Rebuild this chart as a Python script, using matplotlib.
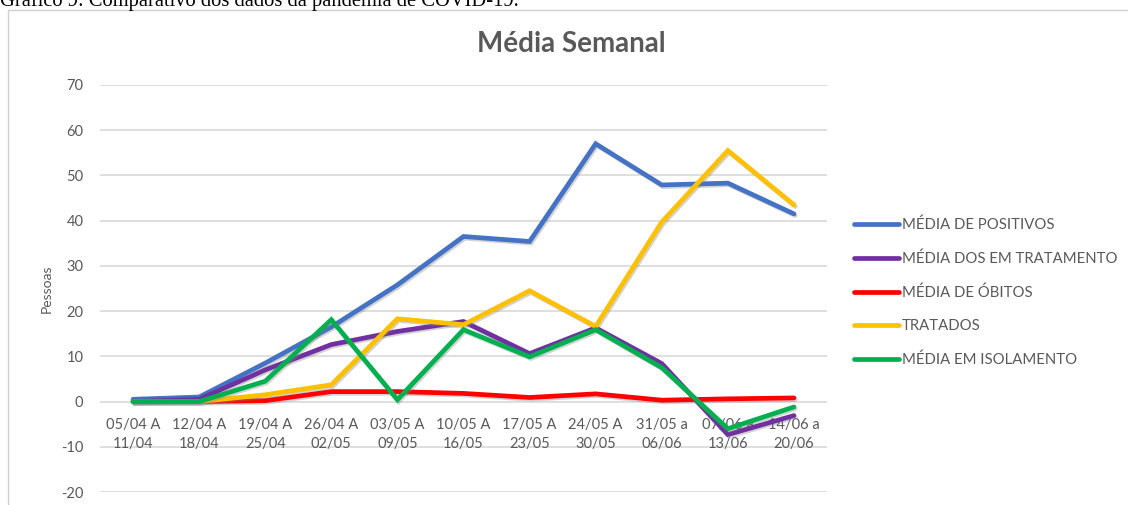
import matplotlib.pyplot as plt
import matplotlib.patheffects as pe
from matplotlib.patches import Rectangle
from matplotlib.transforms import offset_copy

# Weekly averages
semanas = ["05/04 A\n11/04", "12/04 A\n18/04", "19/04 A\n25/04", "26/04 A\n02/05",
           "03/05 A\n09/05", "10/05 A\n16/05", "17/05 A\n23/05", "24/05 A\n30/05",
           "31/05 a\n06/06", "07/06 a\n13/06", "14/06 a\n20/06"]
positivos = [0.5, 1.0, 8.5, 16.5, 25.8, 36.5, 35.4, 57.0, 47.9, 48.3, 41.5]
em_tratamento = [0.0, 0.5, 7.0, 12.6, 15.5, 17.7, 10.6, 16.3, 8.4, -7.3, -3.1]
obitos = [0.0, 0.0, 0.2, 2.2, 2.2, 1.8, 0.9, 1.7, 0.3, 0.6, 0.8]
tratados = [0.0, 0.0, 1.5, 3.7, 18.3, 17.0, 24.5, 16.6, 39.7, 55.5, 43.5]
isolamento = [0.0, 0.0, 4.5, 18.1, 0.4, 15.9, 9.9, 15.9, 7.5, -6.0, -1.2]
yticks = [-20, -10, 0, 10, 20, 30, 40, 50, 60, 70]

series = [
    ("MÉDIA DE POSITIVOS", positivos, "#4472C4"),
    ("MÉDIA DOS EM TRATAMENTO", em_tratamento, "#7030A0"),
    ("MÉDIA DE ÓBITOS", obitos, "#FF0000"),
    ("TRATADOS", tratados, "#FFC000"),
    ("MÉDIA EM ISOLAMENTO", isolamento, "#00B050"),
]

text_gray = "#595959"
plt.rcParams['font.family'] = ['Lato', 'DejaVu Sans']
plt.rcParams['axes.unicode_minus'] = False

fig = plt.figure(figsize=(11.28, 5.05), dpi=100)
fig.patch.set_facecolor('white')

# caption above the chart (cut off at top, like in the source document)
fig.text(0.0, 1 - 6 / 505, "Gráfico 9: Comparativo dos dados da pandemia de COVID-19.",
         family='Liberation Serif', fontsize=14.8, color='black', va='baseline', ha='left')

# chart frame
fig.patches.append(Rectangle((8 / 1128, -0.05), 1.2, 1 - 10 / 505 + 0.05,
                             transform=fig.transFigure, fill=False,
                             edgecolor='#d0d0d0', linewidth=1.0))

ax = fig.add_axes([100 / 1128, 1 - 492 / 505, 727 / 1128, 407 / 505])
x = list(range(len(semanas)))

shadow = [pe.SimpleLineShadow(offset=(1, -1.2), shadow_color='gray', alpha=0.35), pe.Normal()]
for name, vals, col in series:
    ax.plot(x, vals, color=col, linewidth=3.4, label=name, zorder=3,
            solid_capstyle='round', solid_joinstyle='miter', path_effects=shadow)

ax.set_xlim(-0.5, len(semanas) - 0.5)
ax.set_ylim(-20, 70)
ax.set_yticks(yticks)
ax.tick_params(axis='y', length=0, labelsize=10.5, labelcolor=text_gray, pad=12)
ax.set_xticks([])
ax.grid(axis='y', color='#d9d9d9', linewidth=1.2, zorder=0)
ax.set_axisbelow(True)
for s in ax.spines.values():
    s.set_visible(False)

# category labels sit just below the zero line
lbl_tr = offset_copy(ax.transData, fig=fig, x=0, y=-12, units='points')
for i, lab in enumerate(semanas):
    ax.text(i, 0, lab, transform=lbl_tr, ha='center', va='top', fontsize=10.5,
            color=text_gray, linespacing=1.45, zorder=2)

ax.set_ylabel("Pessoas", fontsize=10, color=text_gray, labelpad=6)

fig.text(571 / 1128, 1 - 44 / 505, "Média Semanal", ha='center', va='center',
         fontsize=20, fontweight='bold', color=text_gray)

leg = fig.legend(loc='upper left', bbox_to_anchor=(848 / 1128, 1 - 212 / 505), frameon=False,
                 fontsize=10.7, handlelength=3.0, handletextpad=0.2, labelspacing=1.3,
                 borderaxespad=0)
for t in leg.get_texts():
    t.set_color(text_gray)
for h in leg.get_lines():
    h.set_linewidth(3.4)
    h.set_path_effects([])

fig.savefig("out.png", dpi=100, facecolor='white')
